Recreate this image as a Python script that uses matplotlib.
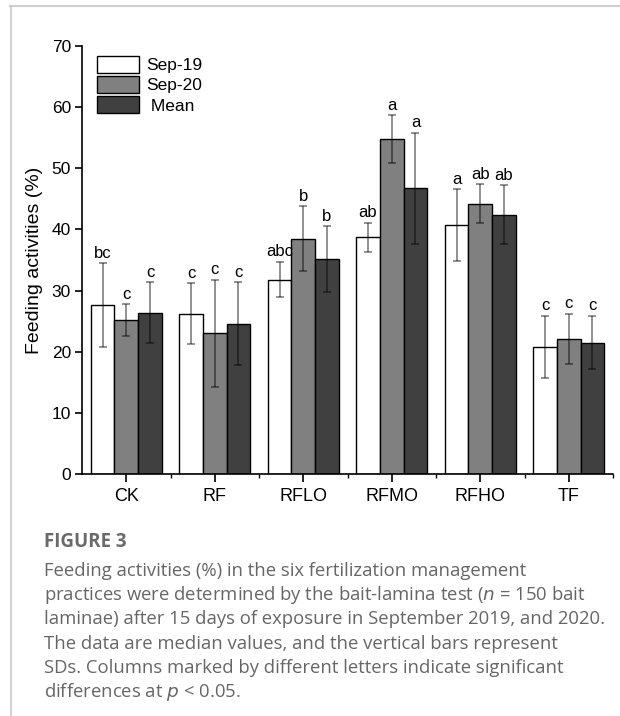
import numpy as np
import matplotlib
matplotlib.use("Agg")
import matplotlib.pyplot as plt
from matplotlib.ticker import MultipleLocator, FixedLocator

categories = ["CK", "RF", "RFLO", "RFMO", "RFHO", "TF"]
series_names = ["Sep-19", "Sep-20", " Mean"]

sep19 = [27.6, 26.2, 31.8, 38.7, 40.7, 20.8]
sep20 = [25.2, 23.0, 38.5, 54.8, 44.2, 22.1]
mean = [26.4, 24.6, 35.1, 46.7, 42.4, 21.5]

sep19_sd = [6.9, 5.0, 2.9, 2.4, 5.9, 5.1]
sep20_sd = [2.6, 8.8, 5.3, 3.9, 3.2, 4.1]
mean_sd = [5.0, 6.8, 5.4, 9.1, 4.8, 4.4]

sep19_letters = ["bc", "c", "abc", "ab", "a", "c"]
sep20_letters = ["c", "c", "b", "a", "ab", "c"]
mean_letters = ["c", "c", "b", "a", "ab", "c"]

caption_title = "FIGURE 3"
caption_lines = [
    "Feeding activities (%) in the six fertilization management",
    "practices were determined by the bait-lamina test ($\\it{n}$ = 150 bait",
    "laminae) after 15 days of exposure in September 2019, and 2020.",
    "The data are median values, and the vertical bars represent",
    "SDs. Columns marked by different letters indicate significant",
    "differences at $\\it{p}$ < 0.05.",
]

W, H = 620, 716
fig = plt.figure(figsize=(W / 100, H / 100), dpi=100)

# card border (top and left lines)
fig.add_artist(plt.Line2D([10 / W, 1], [1 - 6 / H, 1 - 6 / H], color="#d0d0d0", lw=1.5))
fig.add_artist(plt.Line2D([11 / W, 11 / W], [0, 1 - 6 / H], color="#c8c8c8", lw=1.2))

# axes placed in pixel coords
left, right, top, bottom = 82, 613, 46, 474
ax = fig.add_axes([left / W, 1 - bottom / H, (right - left) / W, (bottom - top) / H])

chart_font = "Liberation Sans"
x = np.arange(len(categories))
bw = 0.268
colors = ["white", "#808080", "#404040"]
data = [sep19, sep20, mean]
sds = [sep19_sd, sep20_sd, mean_sd]
letters = [sep19_letters, sep20_letters, mean_letters]

for i in range(3):
    xs = x + (i - 1) * bw
    ax.bar(xs, data[i], bw, color=colors[i], edgecolor="black", linewidth=1.0,
           label=series_names[i], zorder=2)
    ax.errorbar(xs, data[i], yerr=sds[i], fmt="none", ecolor="black", alpha=0.5,
                elinewidth=1.2, capsize=2.6, capthick=1.2, zorder=3)
    for xi, v, s, t in zip(xs, data[i], sds[i], letters[i]):
        ax.text(xi, v + s + 0.4, t, ha="center", va="bottom", fontsize=12,
                family=chart_font, zorder=4)

ax.set_xlim(-0.5, 5.5)
ax.set_ylim(0, 70)
ax.spines["top"].set_visible(False)
ax.spines["right"].set_visible(False)
ax.spines["left"].set_linewidth(1.2)
ax.spines["bottom"].set_linewidth(1.2)

ax.set_xticks(x)
ax.set_xticklabels(categories, fontsize=13, family=chart_font)
ax.xaxis.set_minor_locator(FixedLocator(np.arange(0.5, 6.0, 1.0)))
ax.yaxis.set_major_locator(MultipleLocator(10))
ax.tick_params(axis="x", which="major", direction="out", length=6, width=1.2, pad=4)
ax.tick_params(axis="x", which="minor", direction="out", length=3, width=1.0)
ax.tick_params(axis="y", which="major", direction="out", length=5, width=1.2, pad=3)
for lab in ax.get_yticklabels():
    lab.set_fontsize(12.5)
    lab.set_family(chart_font)

ax.set_ylabel("Feeding activities (%)", fontsize=14, family=chart_font)
ax.yaxis.set_label_coords(-0.073, 0.5)

ax.legend(loc="upper left", bbox_to_anchor=(0.028, 0.977), frameon=False,
          borderpad=0, borderaxespad=0, handlelength=2.45, handleheight=1.15,
          labelspacing=0.15, handletextpad=0.4,
          prop={"family": chart_font, "size": 12.5})

# caption
cap_font = "Open Sans"
fig.text(44 / W, 1 - 542 / H, caption_title, fontsize=13.5, fontweight="bold",
         color="#6a6a6a", family=cap_font, va="center", ha="left")
y0 = 571
step = 24.2
for k, line in enumerate(caption_lines):
    fig.text(44 / W, 1 - (y0 + k * step) / H, line, fontsize=13.3, color="#666666",
             family=cap_font, va="center", ha="left")

fig.savefig("out.png", dpi=100)
